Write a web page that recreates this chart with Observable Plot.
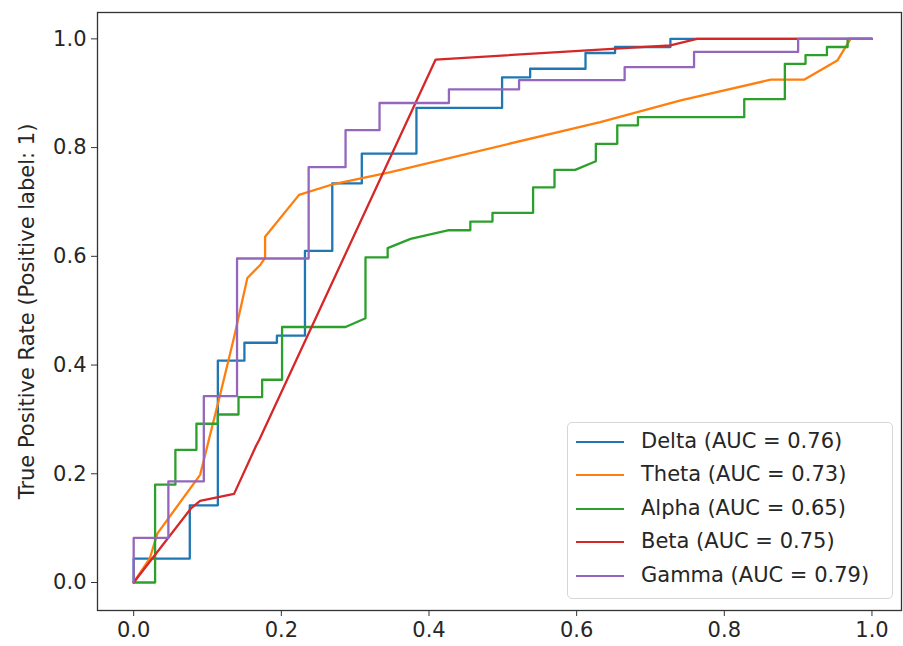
<!DOCTYPE html>
<html><head><meta charset="utf-8">
<script src="https://cdn.jsdelivr.net/npm/d3@7"></script>
<script src="https://cdn.jsdelivr.net/npm/@observablehq/plot@0.6"></script>
<style>
body{margin:0;background:#fff;}
#wrap{position:relative;width:903px;height:646px;font-family:"DejaVu Sans",sans-serif;color:#262626;}
#legend{position:absolute;left:567px;top:422px;width:326px;height:177px;border:1px solid #d6d6d6;border-radius:5px;background:rgba(255,255,255,0.85);box-sizing:border-box;}
.row{position:absolute;left:0;height:34px;width:100%;}
.sw{position:absolute;left:8px;top:16px;width:48px;height:0;border-top:2.5px solid;}
.lb{position:absolute;left:73px;top:3px;font-size:21px;line-height:26px;white-space:nowrap;}
</style>
</head><body>
<div id="wrap"></div>
<script>
const series = ["Delta","Theta","Alpha","Beta","Gamma"];
const aucs = [0.76,0.73,0.65,0.75,0.79];
const colors = ["#1f77b4","#ff7f0e","#2ca02c","#d62728","#9467bd"];
const tickValues = [0,0.2,0.4,0.6,0.8,1.0];
const yLabel = "True Positive Rate (Positive label: 1)";

const deltaFpr = [0,0,0.076,0.076,0.114,0.114,0.150,0.150,0.194,0.194,0.232,0.232,0.269,0.269,0.309,0.309,0.383,0.383,0.499,0.499,0.537,0.537,0.612,0.612,0.652,0.652,0.727,0.727,1];
const deltaTpr = [0,0.044,0.044,0.142,0.142,0.408,0.408,0.441,0.441,0.454,0.454,0.610,0.610,0.734,0.734,0.789,0.789,0.873,0.873,0.929,0.929,0.945,0.945,0.974,0.974,0.985,0.985,1.0,1.0];

const thetaFpr = [0,0.022,0.032,0.090,0.117,0.136,0.154,0.172,0.178,0.178,0.224,0.271,0.348,0.632,0.741,0.863,0.908,0.953,0.971,1];
const thetaTpr = [0,0.045,0.090,0.198,0.345,0.451,0.560,0.585,0.597,0.636,0.713,0.733,0.755,0.847,0.887,0.925,0.925,0.960,1.0,1.0];

const alphaFpr = [0,0.029,0.029,0.0565,0.0565,0.085,0.085,0.114,0.114,0.142,0.142,0.174,0.174,0.201,0.201,0.287,0.314,0.314,0.344,0.344,0.375,0.427,0.456,0.456,0.486,0.486,0.541,0.541,0.570,0.570,0.598,0.626,0.626,0.655,0.655,0.683,0.683,0.827,0.827,0.882,0.882,0.910,0.910,0.939,0.939,0.967,0.967,1];
const alphaTpr = [0,0,0.180,0.180,0.244,0.244,0.292,0.292,0.309,0.309,0.341,0.341,0.373,0.373,0.470,0.470,0.486,0.598,0.598,0.615,0.632,0.648,0.648,0.664,0.664,0.680,0.680,0.727,0.727,0.759,0.759,0.775,0.807,0.807,0.841,0.841,0.856,0.856,0.889,0.889,0.954,0.954,0.970,0.970,0.985,0.985,1.0,1.0];

const betaFpr = [0,0.078,0.090,0.136,0.166,0.170,0.409,0.727,0.763,1];
const betaTpr = [0,0.137,0.150,0.163,0.252,0.262,0.962,0.988,1.0,1.0];

const gammaFpr = [0,0,0.047,0.047,0.095,0.095,0.140,0.140,0.237,0.237,0.287,0.287,0.333,0.333,0.427,0.427,0.522,0.522,0.665,0.665,0.759,0.759,0.900,0.900,1];
const gammaTpr = [0,0.082,0.082,0.186,0.186,0.343,0.343,0.596,0.596,0.764,0.764,0.832,0.832,0.882,0.882,0.907,0.907,0.924,0.924,0.948,0.948,0.976,0.976,1.0,1.0];

const fprs = [deltaFpr, thetaFpr, alphaFpr, betaFpr, gammaFpr];
const tprs = [deltaTpr, thetaTpr, alphaTpr, betaTpr, gammaTpr];

const data = [];
series.forEach((s, i) => {
  fprs[i].forEach((f, j) => data.push({series: s, fpr: f, tpr: tprs[i][j]}));
});

const fmt = d3.format(".1f");
const chart = Plot.plot({
  width: 903,
  height: 646,
  marginLeft: 97,
  marginRight: 2,
  marginTop: 12,
  marginBottom: 36,
  style: {fontFamily: "DejaVu Sans, sans-serif", fontSize: "21px", color: "#262626", background: "#fff"},
  x: {domain: [-0.049, 1.04]},
  y: {domain: [-0.0515, 1.0485]},
  color: {domain: series, range: colors},
  marks: [
    Plot.frame({stroke: "#333", strokeWidth: 1.3}),
    Plot.axisX({ticks: tickValues, tickFormat: fmt, tickSize: 6, tickPadding: 6, label: null, stroke: "#333"}),
    Plot.axisY({ticks: tickValues, tickFormat: fmt, tickSize: 6, tickPadding: 5, label: yLabel, labelAnchor: "center", labelOffset: 78, labelArrow: "none", stroke: "#333"}),
    Plot.line(data, {x: "fpr", y: "tpr", z: "series", stroke: "series", strokeWidth: 2.3, curve: "linear"})
  ]
});
const wrap = document.getElementById("wrap");
wrap.appendChild(chart);

const legend = document.createElement("div");
legend.id = "legend";
series.forEach((s, i) => {
  const row = document.createElement("div");
  row.className = "row";
  row.style.top = (2 + i * 33.4) + "px";
  const sw = document.createElement("div");
  sw.className = "sw";
  sw.style.borderTopColor = colors[i];
  const lb = document.createElement("div");
  lb.className = "lb";
  lb.textContent = `${s} (AUC = ${aucs[i].toFixed(2)})`;
  row.appendChild(sw); row.appendChild(lb);
  legend.appendChild(row);
});
wrap.appendChild(legend);
</script>
</body></html>
